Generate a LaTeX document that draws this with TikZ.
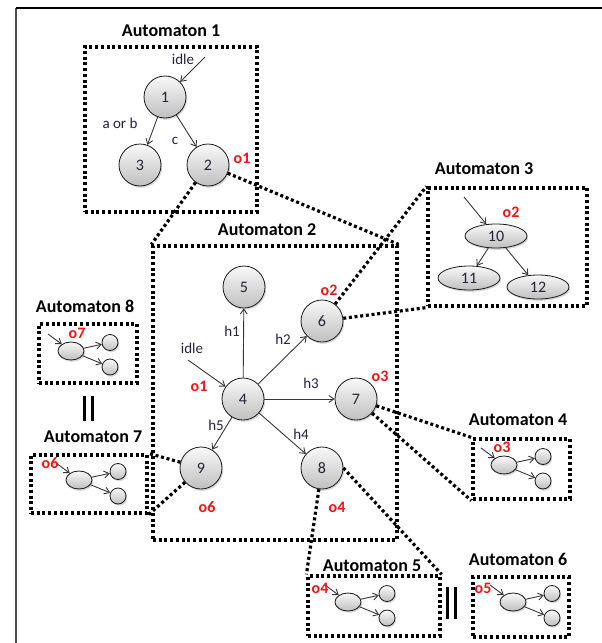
\documentclass[tikz,border=0pt]{standalone}
\usepackage{fontspec}
\setmainfont{Carlito}
\usetikzlibrary{arrows.meta,shapes.geometric,shadows}

\definecolor{txtcol}{RGB}{35,35,60}
\definecolor{outred}{RGB}{240,20,20}
\definecolor{edgecol}{RGB}{55,55,55}

\tikzset{
  stnode/.style={circle, minimum size=42pt, inner sep=0pt, draw=gray!20!black,
    line width=0.8pt, top color=gray!5, bottom color=gray!50, text=txtcol,
    font=\fontsize{16}{16}\selectfont,
    drop shadow={opacity=0.3, shadow xshift=1.2pt, shadow yshift=-1.8pt}},
  ovnode/.style={stnode, ellipse, minimum width=62pt, minimum height=24pt},
  minie/.style={stnode, ellipse, minimum width=26pt, minimum height=18pt},
  minic/.style={stnode, minimum size=16pt},
  autbox/.style={draw, line width=3.2pt, dash pattern=on 3pt off 2.7pt,
    inner sep=0pt},
  link/.style={line width=3.2pt, dash pattern=on 3pt off 2.7pt},
  tr/.style={draw=edgecol, line width=0.9pt, -{Straight Barb[length=5pt,width=7pt]}},
  title/.style={font=\bfseries\fontsize{18}{18}\selectfont},
  lbl/.style={text=txtcol, font=\fontsize{15}{15}\selectfont},
  outlbl/.style={text=outred, font=\bfseries\fontsize{16}{16}\selectfont},
  parbar/.style={line width=3pt},
}

% petit automate : prefixe, x, y, position du label, label
\newcommand{\miniaut}[5]{%
  \begin{scope}[shift={(#2,#3)}]
    \node[minie] (#1e) at (0,0) {};
    \node[minic] (#1a) at (39,-8.5) {};
    \node[minic] (#1b) at (39,16) {};
    \coordinate (#1in) at (-23,-17);
    \draw[tr] (#1in) -- (#1e);
    \draw[tr] (#1e) -- (#1a);
    \draw[tr] (#1e) -- (#1b);
    \node[outlbl] (#1o) at (#4) {#5};
  \end{scope}}

\begin{document}
\begin{tikzpicture}[x=1pt, y=-1pt]
  \useasboundingbox (0,0) rectangle (602,643);

  % ==========================================
  % CADRE
  % ==========================================
  \draw[gray!60!black, line width=2pt] (15.5,643) -- (15.5,8);
  \draw[black, line width=2pt] (15.5,8) -- (602,8);

  % ==========================================
  % AUTOMATE 1
  % ==========================================
  \node[title] (t1) at (171,31) {Automaton 1};
  \node[autbox, minimum width=172pt, minimum height=165pt] (box1) at (171,129.5) {};
  \node[stnode] (n1) at (165,97) {1};
  \node[stnode] (n3) at (140,165) {3};
  \node[stnode] (n2) at (208,165) {2};
  \coordinate (in1) at (205,57);
  \draw[tr] (in1) -- (n1);
  \draw[tr] (n1) -- (n3);
  \draw[tr] (n1) -- (n2);
  \node[lbl] (idle1) at (183,59) {idle};
  \node[lbl] (ab) at (120,123) {a or b};
  \node[lbl] (c) at (175,141) {c};
  \node[outlbl] (o1a) at (242,158) {o1};

  % ==========================================
  % AUTOMATE 2
  % ==========================================
  \node[title] (t2) at (267,230) {Automaton 2};
  \node[autbox, minimum width=244pt, minimum height=294pt] (box2) at (275,393) {};
  \node[stnode] (n4) at (243,399) {4};
  \node[stnode] (n5) at (244,287) {5};
  \node[stnode] (n6) at (322,321) {6};
  \node[stnode] (n7) at (356,399) {7};
  \node[stnode] (n8) at (322,468) {8};
  \node[stnode] (n9) at (201,468) {9};
  \coordinate (in2) at (188,360);
  \draw[tr] (in2) -- (n4);
  \foreach \t in {5,6,7,8,9}
    \draw[tr] (n4) -- (n\t);
  \node[lbl] (idle2) at (192,348) {idle};
  \node[lbl] (h1) at (232,331) {h1};
  \node[lbl] (h2) at (283,339) {h2};
  \node[lbl] (h3) at (311,383) {h3};
  \node[lbl] (h4) at (301,434) {h4};
  \node[lbl] (h5) at (216,425) {h5};
  \node[outlbl] (o1b) at (199,386) {o1};
  \node[outlbl] (o2b) at (329,290) {o2};
  \node[outlbl] (o3b) at (380,376) {o3};
  \node[outlbl] (o4b) at (337,507) {o4};
  \node[outlbl] (o6b) at (207,507) {o6};

  % ==========================================
  % AUTOMATE 3
  % ==========================================
  \node[title] (t3) at (484,169) {Automaton 3};
  \node[autbox, minimum width=159pt, minimum height=118pt] (box3) at (507.5,247) {};
  \node[ovnode] (n10) at (496,236) {10};
  \node[ovnode] (n11) at (469,278) {11};
  \node[ovnode] (n12) at (538,287) {12};
  \coordinate (in3) at (464,197);
  \draw[tr] (in3) -- (n10);
  \draw[tr] (n10) -- (n11);
  \draw[tr] (n10) -- (n12);
  \node[outlbl] (o2c) at (511,212) {o2};

  % ==========================================
  % PETITS AUTOMATES 4 A 8
  % ==========================================
  \node[title] (t8) at (85,306) {Automaton 8};
  \node[autbox, minimum width=98pt, minimum height=59pt] (box8) at (88,353.5) {};
  \miniaut{a8}{71}{351}{6,-18}{o7}

  \node[title] (t7) at (93,437) {Automaton 7};
  \node[autbox, minimum width=116pt, minimum height=58pt] (box7) at (89,484) {};
  \miniaut{a7}{79}{480}{-29,-17}{o6}

  \node[title] (t4) at (518,420) {Automaton 4};
  \node[autbox, minimum width=97pt, minimum height=60pt] (box4) at (521.5,469) {};
  \miniaut{a4}{504}{465}{-2,-18}{o3}

  \node[title] (t5) at (372,566) {Automaton 5};
  \node[autbox, minimum width=132pt, minimum height=60pt] (box5) at (374,606) {};
  \miniaut{a5}{348}{602}{-28,-14}{o4}

  \node[title] (t6) at (518,559) {Automaton 6};
  \node[autbox, minimum width=96pt, minimum height=60pt] (box6) at (521,607) {};
  \miniaut{a6}{513}{602}{-30,-14}{o5}

  % symboles de composition parallele
  \draw[parbar] (84,396) -- (84,421);
  \draw[parbar] (92,396) -- (92,421);
  \draw[parbar] (447,587) -- (447,619);
  \draw[parbar] (455,587) -- (455,619);

  % ==========================================
  % LIENS ETAT -> AUTOMATE
  % ==========================================
  \draw[link] (n2) -- (box2.north west);
  \draw[link] (n2) -- (box2.north east);
  \draw[link] (n6) -- (box3.north west);
  \draw[link] (n6) -- (box3.south west);
  \draw[link] (n7) -- (box4.north west);
  \draw[link] (n7) -- (box4.south west);
  \draw[link] (n8.east) -- (box5.north east);
  \draw[link] (n8) -- (box5.north west);
  \draw[link] (n9) -- (box7.north east);
  \draw[link] (n9) -- (box7.south east);
\end{tikzpicture}
\end{document}
